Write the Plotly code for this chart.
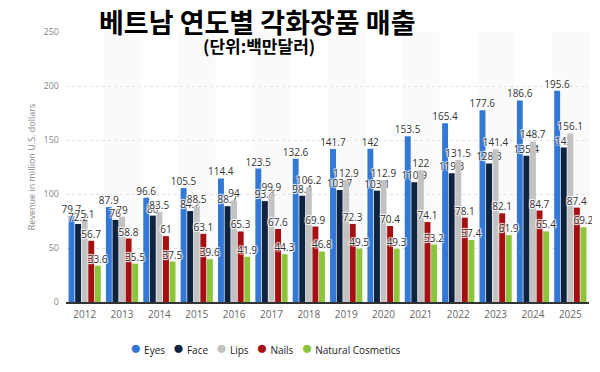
import plotly.graph_objects as go

years = ["2012", "2013", "2014", "2015", "2016", "2017", "2018",
         "2019", "2020", "2021", "2022", "2023", "2024", "2025"]
eyes = [79.7, 87.9, 96.6, 105.5, 114.4, 123.5, 132.6, 141.7, 142, 153.5, 165.4, 177.6, 186.6, 195.6]
face = [72.2, 76, 80, 84.2, 88.7, 93.4, 98.4, 103.7, 103.1, 110.9, 119.3, 128.3, 135.4, 143]
lips = [75.1, 79, 83.5, 88.5, 94, 99.9, 106.2, 112.9, 112.9, 122, 131.5, 141.4, 148.7, 156.1]
nails = [56.7, 58.8, 61, 63.1, 65.3, 67.6, 69.9, 72.3, 70.4, 74.1, 78.1, 82.1, 84.7, 87.4]
natural = [33.6, 35.5, 37.5, 39.6, 41.9, 44.3, 46.8, 49.5, 49.3, 53.2, 57.4, 61.9, 65.4, 69.2]

series_names = ["Eyes", "Face", "Lips", "Nails", "Natural Cosmetics"]
series_values = [eyes, face, lips, nails, natural]
series_colors = ["#3378d4", "#0d2340", "#c2c2c2", "#a50f12", "#8cc43c"]

halo = "1px 1px 1px white, -1px -1px 1px white, 1px -1px 1px white, -1px 1px 1px white"

# page body has an 8px margin, so the figure is drawn 8px in from the top-left
OFF = 8
W, H = 600 - OFF, 372 - OFF
L, R, T, B = 66 - OFF, 11, 32 - OFF, 364 - (302 - OFF)
pw = W - L - R
ph = H - T - B


def px_x(p):
    return (p - OFF - L) / pw


def px_y(p):
    return (H - B - (p - OFF)) / ph


fig = go.Figure()
for name, vals, col in zip(series_names, series_values, series_colors):
    fig.add_trace(go.Bar(
        x=years, y=vals, name=name, marker_color=col, marker_line_width=0,
        text=[f"{v:g}" for v in vals], textposition="outside",
        textfont=dict(family="Open Sans", size=10, color="#333333", shadow=halo),
        constraintext="none", cliponaxis=False, showlegend=False,
    ))

shapes = []
for i, yr in enumerate(years):
    if int(yr) % 2 == 1:
        shapes.append(dict(type="rect", xref="x", yref="paper",
                           x0=i - 0.5, x1=i + 0.5, y0=0, y1=1,
                           fillcolor="#fafafa", line_width=0, layer="below"))

legend_text = "&nbsp;&nbsp;&nbsp;".join(
    f'<span style="color:{c};font-size:19px">●</span> {n}'
    for n, c in zip(series_names, series_colors)
)

fig.update_layout(
    width=W, height=H,
    margin=dict(l=L, r=R, t=T, b=B),
    paper_bgcolor="white", plot_bgcolor="white",
    barmode="group", bargap=0.12, bargroupgap=0.1,
    shapes=shapes,
    font=dict(family="Open Sans", color="#666666"),
    showlegend=False,
    annotations=[
        dict(text="<b>베트남 연도별 각화장품 매출</b>", x=px_x(257), y=px_y(21),
             xref="paper", yref="paper", xanchor="center", yanchor="middle",
             showarrow=False, font=dict(family="Noto Sans CJK KR", size=27, color="#000000")),
        dict(text="<b>(단위:백만달러)</b>", x=px_x(259), y=px_y(46),
             xref="paper", yref="paper", xanchor="center", yanchor="middle",
             showarrow=False, font=dict(family="Noto Sans CJK KR", size=17, color="#000000")),
        dict(text=legend_text, x=px_x(265), y=px_y(347),
             xref="paper", yref="paper", xanchor="center", yanchor="middle",
             showarrow=False, font=dict(family="Open Sans", size=10, color="#222222")),
    ],
)

fig.update_xaxes(type="category", showline=True, linecolor="#333333", linewidth=1.5,
                 ticks="", tickfont=dict(size=10, color="#666666"), showgrid=False,
                 ticklabelstandoff=2, automargin=False)
fig.update_yaxes(range=[0, 250], tickvals=[0, 50, 100, 150, 200, 250],
                 showgrid=True, gridcolor="#e2e2e2", griddash="dot", gridwidth=1,
                 zeroline=False, tickfont=dict(size=9, color="#888888"),
                 ticklabelstandoff=6, automargin=False,
                 title=dict(text="Revenue in million U.S. dollars",
                            font=dict(size=9, color="#888888"), standoff=6))

fig.write_html("out.html")
